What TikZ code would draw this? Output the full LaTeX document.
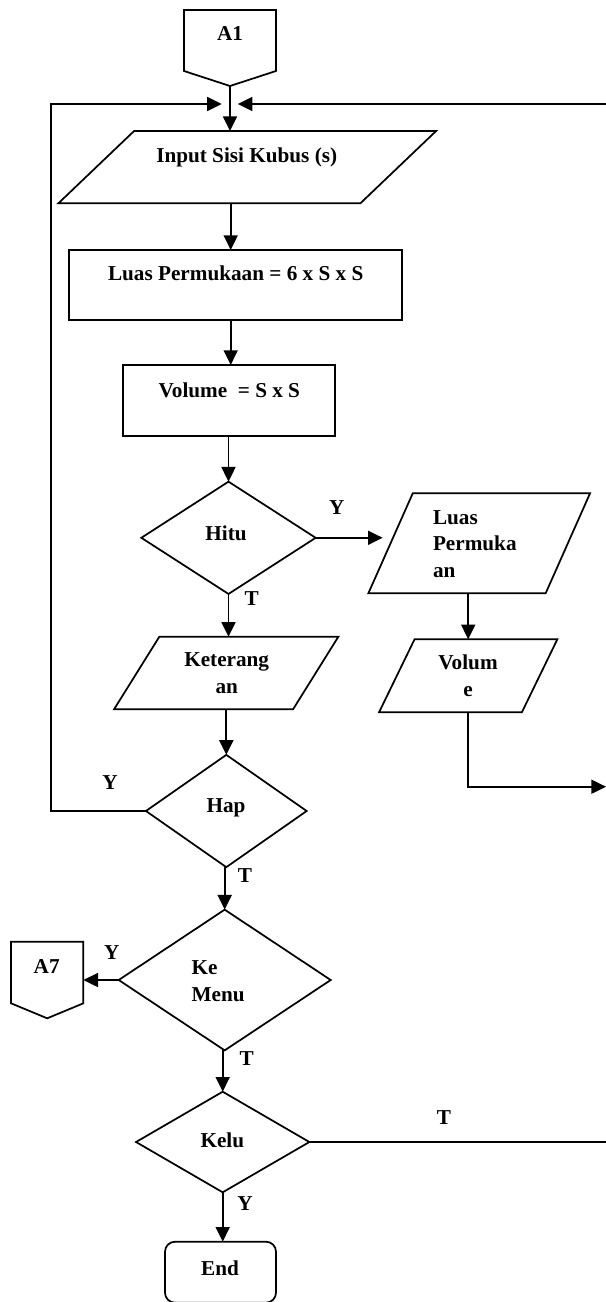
\documentclass[tikz,border=0pt]{standalone}
\usepackage{fontspec}
\setmainfont{Liberation Serif}
\usetikzlibrary{shapes.geometric,arrows.meta,calc}
\begin{document}
\begin{tikzpicture}[x=0.75pt,y=-0.75pt,
  every node/.style={outer sep=0pt,inner sep=0pt},
  ln/.style={line width=1.3pt,line join=miter},
  arr/.style={line width=1.3pt,-{Triangle[length=11pt,width=10.5pt]}},
  txt/.style={font=\fontsize{15.9}{20}\selectfont\bfseries,align=center},
  sz/.style 2 args={minimum width=#1*0.75pt,minimum height=#2*0.75pt},
  proc/.style={rectangle,draw,line width=1.3pt},
  term/.style={rectangle,draw,line width=1.3pt,rounded corners=7.5pt},
  dec/.style={diamond,draw,line width=1.3pt},
  con/.style={rectangle,draw=none}]
\clip (0,0) rectangle (606,1302);

% shapes
\node[con,sz={92}{76}] (a1) at (230,48) {};
\draw[ln] (a1.north west) -- (a1.north east) -- ($(a1.south east)+(0,-15)$) -- (a1.south) -- ($(a1.south west)+(0,-15)$) -- cycle;
\node[con,sz={377.7}{72.3}] (inp) at (247.2,167.2) {};
\draw[ln] (inp.south west) -- ($(inp.north west)+(75.7,0)$) -- (inp.north east) -- ($(inp.south east)+(-75.7,0)$) -- cycle;
\node[proc,sz={333.3}{70}] (r1) at (235.7,285) {};
\node[proc,sz={212.6}{70.7}] (r2) at (229,400.3) {};
\node[dec,sz={174.3}{112.3}] (hitu) at (228.5,537.8) {};
\node[con,sz={221.7}{100}] (lp) at (479.2,543.3) {};
\draw[ln] (lp.south west) -- ($(lp.north west)+(44.4,0)$) -- (lp.north east) -- ($(lp.south east)+(-44.4,0)$) -- cycle;
\node[con,sz={178.3}{73}] (vol) at (468.2,675.8) {};
\draw[ln] (vol.south west) -- ($(vol.north west)+(35.5,0)$) -- (vol.north east) -- ($(vol.south east)+(-35.5,0)$) -- cycle;
\node[con,sz={224.3}{72.6}] (ket) at (226.2,673) {};
\draw[ln] (ket.south west) -- ($(ket.north west)+(45.3,0)$) -- (ket.north east) -- ($(ket.south east)+(-45.3,0)$) -- cycle;
\node[dec,sz={160.7}{112.3}] (hap) at (226.3,811) {};
\node[dec,sz={212}{140.7}] (km) at (224.7,980) {};
\node[con,sz={72.3}{76.6}] (a7) at (47.2,980) {};
\draw[ln] (a7.north west) -- (a7.north east) -- ($(a7.south east)+(0,-15)$) -- (a7.south) -- ($(a7.south west)+(0,-15)$) -- cycle;
\node[dec,sz={173.3}{100.6}] (kelu) at (222.7,1142) {};
\node[term,sz={111}{61}] (end) at (220.5,1272.2) {};

% texts
\node[txt] (a1t) at (230,34) {A1};
\node[txt] (inpt) at (246.7,157) {Input Sisi Kubus (s)};
\node[txt] (r1t) at (235.7,273.3) {Luas Permukaan = 6 x S x S};
\node[txt] (r2t) at (229.3,390) {Volume~ = S x S};
\node[txt] (hitut) at (226,533.3) {Hitu};
\node[txt,align=left,anchor=west] (lpt) at (433,544) {Luas\\Permuka\\an};
\node[txt] (volt) at (468,676) {Volum\\e};
\node[txt] (kett) at (226.7,673.3) {Keterang\\an};
\node[txt] (hapt) at (226,808.3) {Hap};
\node[txt,align=left,anchor=west] (kmt) at (191.7,981) {Ke\\Menu};
\node[txt] (a7t) at (46.7,966.7) {A7};
\node[txt] (kelut) at (222.3,1140) {Kelu};
\node[txt] (endt) at (220,1268.3) {End};

% branch labels
\node[txt] (lhy) at (336.7,508) {Y};
\node[txt] (lht) at (251.7,599) {T};
\node[txt] (lpy) at (110,782.7) {Y};
\node[txt] (lpt2) at (245,876) {T};
\node[txt] (lky) at (111.7,953) {Y};
\node[txt] (lkt) at (246.7,1059) {T};
\node[txt] (lxt) at (444,1118) {T};
\node[txt] (lxy) at (245,1204) {Y};

% helper coordinates
\coordinate (col) at (230.7,0);
\coordinate (jl) at (221.7,104);
\coordinate (jr) at (237.7,104);
\coordinate (loopL) at (50.7,104);
\coordinate (loopR) at (640,104);
\coordinate (lpin) at (382.7,537.8);
\coordinate (volout) at (606,786.7);

% connectors
\draw[arr] (a1.south) -- (a1.south |- inp.north);
\draw[arr] (hap.west) -| (loopL) -- (jl);
\draw[arr] (kelu.east) -| (loopR) -- (jr);
\draw[arr] (col |- inp.south) -- (col |- r1.north);
\draw[arr] (col |- r1.south) -- (col |- r2.north);
\draw[arr] (hitu.north |- r2.south) -- (hitu.north);
\draw[arr] (hitu.east) -- (lpin);
\draw[arr] (vol.north |- lp.south) -- (vol.north);
\draw[arr] (vol.south) |- (volout);
\draw[arr] (hitu.south) -- (hitu.south |- ket.north);
\draw[arr] (hap.north |- ket.south) -- (hap.north);
\draw[arr] (km.north |- hap.south) -- (km.north);
\draw[arr] (km.west) -- (a7.east);
\draw[arr] (kelu.north |- km.south) -- (kelu.north);
\draw[arr] (kelu.south) -- (kelu.south |- end.north);
\end{tikzpicture}
\end{document}
